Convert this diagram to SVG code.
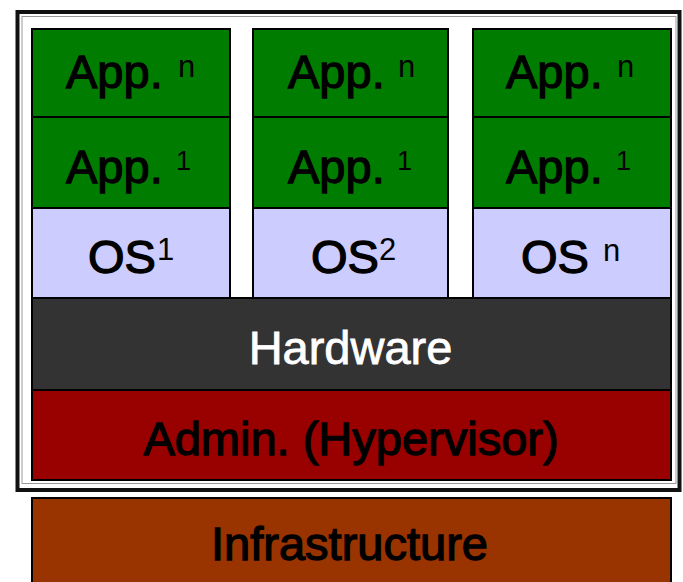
<svg xmlns="http://www.w3.org/2000/svg" width="683" height="582" viewBox="0 0 683 582">
<style>
.box{stroke:#000;stroke-width:2}
.app{fill:#007c00}
.os{fill:#ccccff}
.hw{fill:#333333}
.adm{fill:#990000}
.inf{fill:#993300}
text{font-family:"Liberation Sans",Arial,sans-serif;fill:#000;stroke:#000;stroke-width:1.3}
.big{font-size:47px}
.sup{font-size:31px;stroke-width:0}
.sup1{font-size:27px;stroke-width:0}
.mid{text-anchor:middle}
.white{fill:#fff;stroke:#fff;stroke-width:0.8}
</style>
<rect width="683" height="582" fill="#fff"/>
<g id="frame">
<rect x="17.5" y="12" width="662" height="478" fill="#fff" stroke="#111" stroke-width="4"/>
<rect x="22" y="16.5" width="654" height="467" fill="none" stroke="#999" stroke-width="1"/>
</g>
<g id="col1">
<g id="app-n-1"><rect class="box app" x="32" y="29" width="198" height="88"/><text class="big" x="66" y="88">App.</text><text class="sup" x="178" y="77">n</text></g>
<g id="app-1-1"><rect class="box app" x="32" y="117" width="198" height="91"/><text class="big" x="66" y="183">App.</text><text class="sup1" x="176" y="170">1</text></g>
<g id="os-1"><rect class="box os" x="32" y="208" width="198" height="90"/><text class="big" x="88" y="273">OS</text><text class="sup" x="157" y="260">1</text></g>
</g>
<g id="col2">
<g id="app-n-2"><rect class="box app" x="253" y="29" width="195" height="88"/><text class="big" x="288" y="88">App.</text><text class="sup" x="398" y="77">n</text></g>
<g id="app-1-2"><rect class="box app" x="253" y="117" width="195" height="91"/><text class="big" x="288" y="183">App.</text><text class="sup1" x="397" y="170">1</text></g>
<g id="os-2"><rect class="box os" x="253" y="208" width="195" height="90"/><text class="big" x="311" y="273">OS</text><text class="sup" x="379" y="260">2</text></g>
</g>
<g id="col3">
<g id="app-n-3"><rect class="box app" x="473" y="29" width="198" height="88"/><text class="big" x="506" y="88">App.</text><text class="sup" x="617" y="77">n</text></g>
<g id="app-1-3"><rect class="box app" x="473" y="117" width="198" height="91"/><text class="big" x="506" y="183">App.</text><text class="sup1" x="616" y="170">1</text></g>
<g id="os-n"><rect class="box os" x="473" y="208" width="198" height="90"/><text class="big" x="521" y="273">OS</text><text class="sup" x="603" y="261">n</text></g>
</g>
<g id="hardware"><rect class="box hw" x="32" y="298" width="639" height="92"/><text class="big mid white" x="350.5" y="364">Hardware</text></g>
<g id="admin"><rect class="box adm" x="32" y="390" width="639" height="90"/><text class="big mid" x="351" y="455">Admin. (Hypervisor)</text></g>
<g id="infrastructure"><rect class="box inf" x="32" y="498" width="639" height="100"/><text class="big mid" x="349.5" y="560">Infrastructure</text></g>
<g id="connectors"/>
</svg>
